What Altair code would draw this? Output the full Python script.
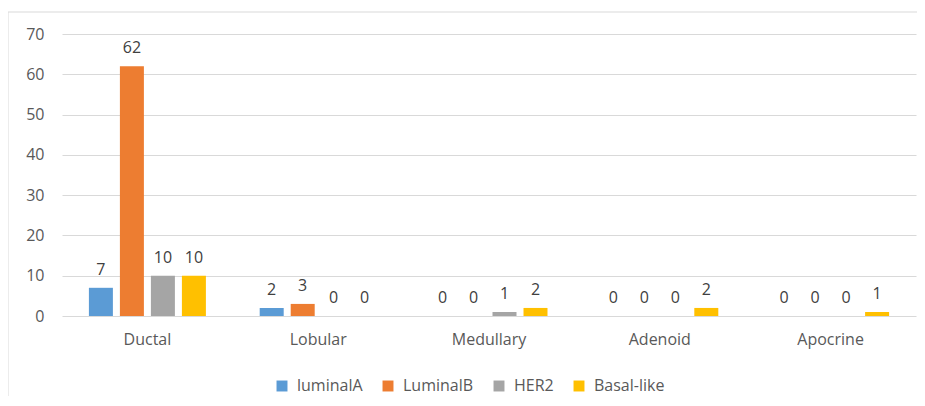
import altair as alt
import pandas as pd

categories = ["Ductal", "Lobular", "Medullary", "Adenoid", "Apocrine"]
series = ["luminalA", "LuminalB", "HER2", "Basal-like"]
luminalA = [7, 2, 0, 0, 0]
luminalB = [62, 3, 0, 0, 0]
her2 = [10, 0, 1, 0, 0]
basal_like = [10, 0, 2, 2, 1]
colors = ["#5B9BD5", "#ED7D31", "#A5A5A5", "#FFC000"]

rows = []
for s, vals in zip(series, [luminalA, luminalB, her2, basal_like]):
    for c, v in zip(categories, vals):
        rows.append({"type": c, "series": s, "count": v})
df = pd.DataFrame(rows)

FONT = "Open Sans"

base = alt.Chart(df).encode(
    x=alt.X("type:N", sort=categories, title=None,
            scale=alt.Scale(paddingInner=0.315, paddingOuter=0.1575),
            axis=alt.Axis(labelAngle=0, ticks=False, domain=False,
                          labelFontSize=16, labelColor="#595959",
                          labelFont=FONT, labelPadding=15)),
    xOffset=alt.XOffset("series:N", sort=series,
                        scale=alt.Scale(paddingInner=0.226, paddingOuter=0)),
    y=alt.Y("count:Q", title=None,
            scale=alt.Scale(domain=[0, 70], nice=False),
            axis=alt.Axis(values=[0, 10, 20, 30, 40, 50, 60, 70], ticks=False,
                          domain=False, grid=True, gridColor="#d9d9d9",
                          labelFontSize=16, labelColor="#595959",
                          labelFont=FONT, labelPadding=18)),
)

bars = base.mark_bar().encode(
    color=alt.Color("series:N", sort=series,
                    scale=alt.Scale(domain=series, range=colors),
                    legend=alt.Legend(title=None, orient="none", direction="horizontal",
                                      legendX=212, legendY=344,
                                      symbolType="square", symbolSize=120,
                                      symbolStrokeWidth=0,
                                      labelFontSize=16, labelColor="#595959",
                                      labelFont=FONT, columnPadding=17,
                                      labelOffset=7))
)

labels = base.mark_text(baseline="alphabetic", dy=-13, fontSize=16,
                        color="#404040", font=FONT).encode(text="count:Q")

frame_df = pd.DataFrame({"a": [0]})
top_line = alt.Chart(frame_df).mark_rule(color="#d9d9d9", strokeWidth=1).encode(
    x=alt.value(-54), x2=alt.value(900), y=alt.value(-22))
left_line = alt.Chart(frame_df).mark_rule(color="#d9d9d9", strokeWidth=1).encode(
    x=alt.value(-54), y=alt.value(-22), y2=alt.value(450))

chart = alt.layer(top_line, left_line, bars, labels).properties(
    width=854, height=282,
    autosize=alt.AutoSizeParams(type="none"),
    padding={"left": 54, "top": 26, "right": 1, "bottom": 80},
    background="white",
).configure_view(stroke=None)

chart.save("out.html", embed_options={"renderer": "svg", "actions": False})
